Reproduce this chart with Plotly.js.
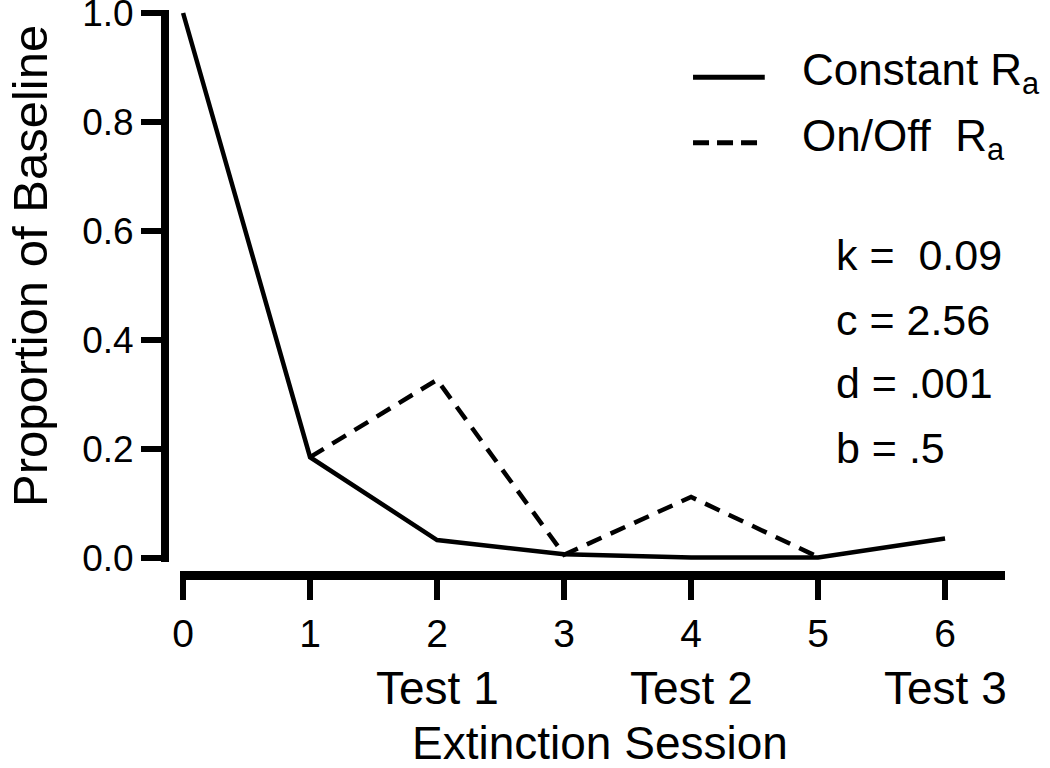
<!DOCTYPE html>
<html>
<head>
<meta charset="utf-8">
<script src="https://cdn.plot.ly/plotly-3.0.1.min.js"></script>
<style>html,body{margin:0;padding:0;background:#fff;}</style>
</head>
<body>
<div id="chart" style="width:1050px;height:768px;"></div>
<script>
// Data
const sessions = [0, 1, 2, 3, 4, 5, 6];
const constantRa = [1.0, 0.185, 0.033, 0.007, 0.001, 0.001, 0.036];
const onOffSessions = [1, 2, 3, 4, 5];
const onOffRa = [0.185, 0.327, 0.006, 0.112, 0.002];
const yTicks = [0, 0.2, 0.4, 0.6, 0.8, 1.0];
const yTickText = ['0.0', '0.2', '0.4', '0.6', '0.8', '1.0'];
const testSessions = [2, 4, 6];
const testLabels = ['Test 1', 'Test 2', 'Test 3'];
const legendNames = ['Constant R<sub>a</sub>', 'On/Off  R<sub>a</sub>'];
const paramLabels = ['k =  0.09', 'c = 2.56', 'd = .001', 'b = .5'];
const xTitle = 'Extinction Session';
const yTitle = 'Proportion of Baseline';

const FONT = '"Liberation Sans", Arial, Helvetica, sans-serif';
const TICK_FS = 39;
const TEXT_FS = 44;

const traces = [
  {x: sessions, y: constantRa, type: 'scatter', mode: 'lines', name: legendNames[0],
   line: {color: '#000', width: 4.5}, showlegend: false},
  {x: onOffSessions, y: onOffRa, type: 'scatter', mode: 'lines', name: legendNames[1],
   line: {color: '#000', width: 4.5, dash: '16px,10px'}, showlegend: false}
];

const annotations = [];
testSessions.forEach((s, i) => {
  annotations.push({x: s, xref: 'x', y: -0.2, yref: 'paper', text: testLabels[i],
    showarrow: false, xanchor: 'center', yanchor: 'middle', font: {size: 46, family: FONT, color: '#000'}});
});
const legY = [0.888, 0.772];
legendNames.forEach((n, i) => {
  annotations.push({x: 0.756, xref: 'paper', y: legY[i], yref: 'paper', text: n,
    showarrow: false, xanchor: 'left', yanchor: 'middle', font: {size: TEXT_FS, family: FONT, color: '#000'}});
});
const paramY = [0.566, 0.451, 0.340, 0.225];
paramLabels.forEach((p, i) => {
  annotations.push({x: 0.797, xref: 'paper', y: paramY[i], yref: 'paper', text: p,
    showarrow: false, xanchor: 'left', yanchor: 'middle', font: {size: 43, family: FONT, color: '#000'}});
});
// axis titles
annotations.push({x: 0.518, xref: 'paper', y: -0.297, yref: 'paper', text: xTitle,
  showarrow: false, xanchor: 'center', yanchor: 'middle', font: {size: 46, family: FONT, color: '#000'}});
annotations.push({x: -0.1607, xref: 'paper', y: 0.547, yref: 'paper', text: yTitle, textangle: -90,
  showarrow: false, xanchor: 'center', yanchor: 'middle', font: {size: 49, family: FONT, color: '#000'}});

const shapes = [
  {type: 'line', xref: 'paper', yref: 'paper', x0: 0.6286, x1: 0.714, y0: 0.881, y1: 0.881,
   line: {color: '#000', width: 5}},
  {type: 'line', xref: 'paper', yref: 'paper', x0: 0.6286, x1: 0.714, y0: 0.765, y1: 0.765,
   line: {color: '#000', width: 5, dash: '16px,8px'}}
];

const layout = {
  width: 1050, height: 768,
  margin: {l: 165, r: 45, t: 10, b: 193},
  paper_bgcolor: '#fff', plot_bgcolor: '#fff',
  font: {family: FONT, size: TICK_FS, color: '#000'},
  showlegend: false,
  xaxis: {
    domain: [0.0179, 1], range: [-0.024, 6.472],
    anchor: 'free', position: 0,
    showline: true, linewidth: 9, linecolor: '#000',
    showgrid: false, zeroline: false,
    ticks: 'outside', ticklen: 20, tickwidth: 6, tickcolor: '#000',
    tickvals: sessions, ticktext: sessions.map(String),
    tickfont: {size: TICK_FS, family: FONT, color: '#000'},
    ticklabeloverflow: 'allow',
    automargin: false
  },
  yaxis: {
    domain: [0.023, 1], range: [-0.0073, 1.0055],
    anchor: 'free', position: 0,
    showline: true, linewidth: 8, linecolor: '#000',
    showgrid: false, zeroline: false,
    ticks: 'outside', ticklen: 20, tickwidth: 6, tickcolor: '#000',
    tickvals: yTicks, ticktext: yTickText,
    tickfont: {size: 37, family: FONT, color: '#000'},
    ticklabeloverflow: 'allow',
    automargin: false
  },
  annotations: annotations,
  shapes: shapes
};

Plotly.newPlot('chart', traces, layout, {displayModeBar: false, staticPlot: true});
</script>
</body>
</html>
